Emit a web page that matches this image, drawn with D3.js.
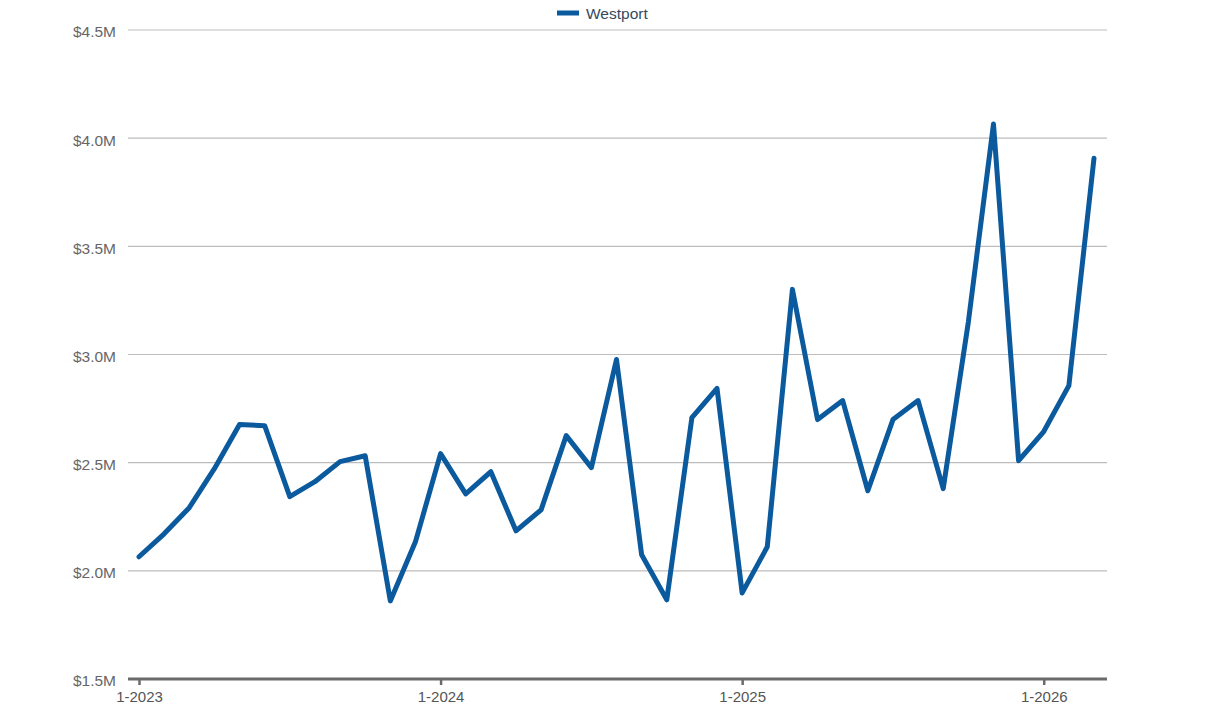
<!DOCTYPE html>
<html><head><meta charset="utf-8">
<script src="https://cdn.jsdelivr.net/npm/d3@7"></script>
<style>body{margin:0;background:#fff;}svg{display:block;font-family:"Liberation Sans",Arial,sans-serif;}</style>
</head><body><svg id="c" width="1223" height="708"></svg>
<script>
const months = ["1-2023","2-2023","3-2023","4-2023","5-2023","6-2023","7-2023","8-2023","9-2023","10-2023","11-2023","12-2023",
"1-2024","2-2024","3-2024","4-2024","5-2024","6-2024","7-2024","8-2024","9-2024","10-2024","11-2024","12-2024",
"1-2025","2-2025","3-2025","4-2025","5-2025","6-2025","7-2025","8-2025","9-2025","10-2025","11-2025","12-2025",
"1-2026","2-2026","3-2026"];
const westport = [2.065,2.171,2.292,2.472,2.676,2.671,2.343,2.412,2.505,2.532,1.861,2.134,
2.542,2.356,2.458,2.185,2.282,2.625,2.477,2.977,2.074,1.866,2.708,2.843,
1.898,2.111,3.301,2.699,2.787,2.370,2.699,2.787,2.380,3.150,4.065,2.509,
2.644,2.856,3.907];
const seriesName = "Westport";
const yTicks = [1.5,2.0,2.5,3.0,3.5,4.0,4.5];
const xTickLabels = ["1-2023","1-2024","1-2025","1-2026"];

const svg = d3.select("#c");
const color = "#0b5a9d";
const x = d3.scaleLinear().domain([0, months.length-1]).range([139, 1094]);
const y = d3.scaleLinear().domain([1.5, 4.5]).range([679, 30]);
const plotL = 128, plotR = 1107;

// gridlines
svg.append("g").selectAll("line").data(yTicks).join("line")
  .attr("x1", plotL).attr("x2", plotR)
  .attr("y1", d => y(d)).attr("y2", d => y(d))
  .attr("stroke", "#bdbdbd").attr("stroke-width", 1.2);

// y labels
svg.append("g").selectAll("text").data(yTicks).join("text")
  .attr("x", 116).attr("y", d => y(d) + 2).attr("dy", "0.35em")
  .attr("text-anchor", "end").attr("fill", "#666").attr("font-size", 15.5)
  .text(d => "$" + d.toFixed(1) + "M");

// x axis
const xAxis = d3.axisBottom(x)
  .tickValues(xTickLabels.map(l => months.indexOf(l)))
  .tickFormat(i => months[i]).tickSize(6).tickPadding(6);
const gx = svg.append("g").attr("transform", `translate(0,${y(1.5)})`).call(xAxis);
gx.select(".domain").remove();
gx.append("line").attr("x1", plotL).attr("x2", plotR).attr("y1", 0).attr("y2", 0)
  .attr("stroke", "#6b6b6b").attr("stroke-width", 3);
gx.selectAll(".tick line").attr("stroke", "#6b6b6b").attr("stroke-width", 2.5);
gx.selectAll(".tick text").attr("fill", "#555").attr("font-size", 15)
  .attr("font-family", '"Liberation Sans",Arial,sans-serif');

// line
svg.append("path").datum(westport)
  .attr("fill", "none").attr("stroke", color).attr("stroke-width", 5)
  .attr("stroke-linejoin", "round").attr("stroke-linecap", "round")
  .attr("d", d3.line().x((d,i) => x(i)).y(d => y(d)));

// legend
const lg = svg.append("g").attr("transform", "translate(557,13)");
lg.append("rect").attr("x", 0).attr("y", -2.5).attr("width", 22).attr("height", 5).attr("fill", color);
lg.append("text").attr("x", 29).attr("y", 1).attr("dy", "0.35em")
  .attr("fill", "#34495e").attr("font-size", 15.5).text(seriesName);
</script></body></html>
